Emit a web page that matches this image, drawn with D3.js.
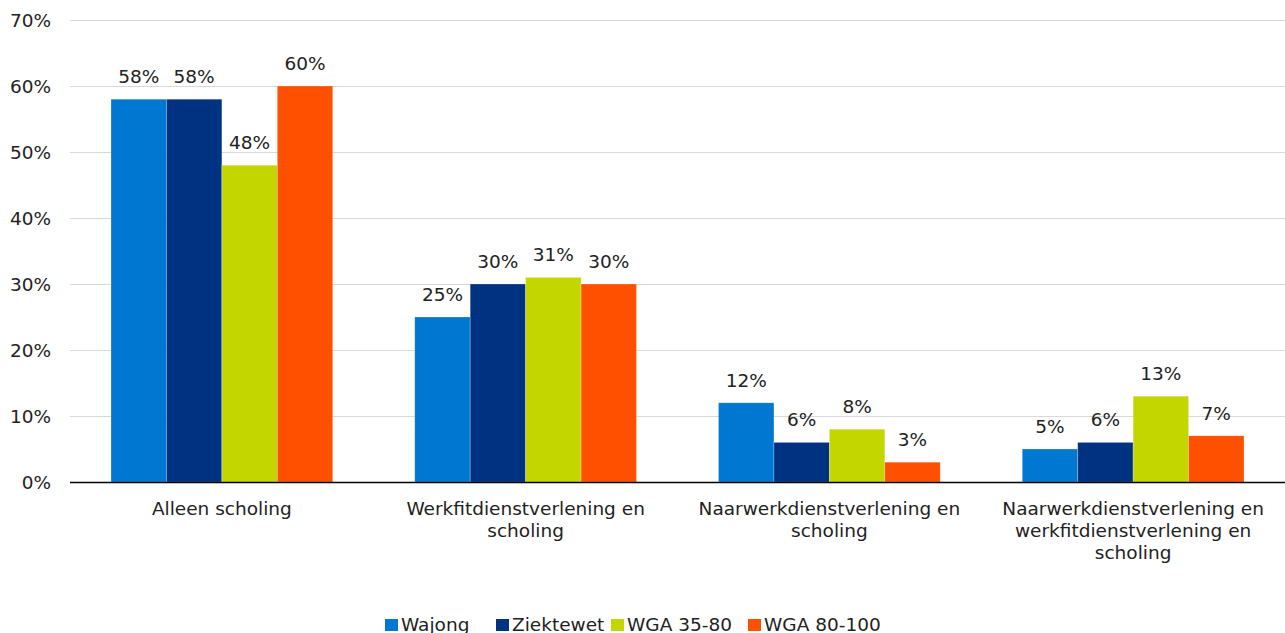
<!DOCTYPE html>
<html>
<head>
<meta charset="utf-8">
<script src="https://cdn.jsdelivr.net/npm/d3@7"></script>
<style>
  body { margin: 0; background: #fff; }
  text { font-family: "DejaVu Sans", Verdana, sans-serif; fill: #222; }
</style>
</head>
<body>
<svg id="chart"></svg>
<script>
// data
var categories = [
  ["Alleen scholing"],
  ["Werkfitdienstverlening en", "scholing"],
  ["Naarwerkdienstverlening en", "scholing"],
  ["Naarwerkdienstverlening en", "werkfitdienstverlening en", "scholing"]
];
var seriesNames = ["Wajong", "Ziektewet", "WGA 35-80", "WGA 80-100"];
var wajong    = [58, 25, 12, 5];
var ziektewet = [58, 30, 6, 6];
var wga3580   = [48, 31, 8, 13];
var wga80100  = [60, 30, 3, 7];
var yTicks = [0, 10, 20, 30, 40, 50, 60, 70];
var colors = ["#0078d2", "#003282", "#c3d600", "#ff5000"];

var width = 1285, height = 633;
var margin = {left: 70, right: 0, top: 20, bottom: 151};
var series = [wajong, ziektewet, wga3580, wga80100];
var fs = '18.5px';

var svg = d3.select('#chart')
  .attr('width', width)
  .attr('height', height);

var x0 = d3.scaleBand()
  .domain(d3.range(categories.length))
  .range([margin.left, width - margin.right])
  .paddingInner(0.27)
  .paddingOuter(0.135);

var x1 = d3.scaleBand()
  .domain(d3.range(seriesNames.length))
  .range([0, x0.bandwidth()]);

var y = d3.scaleLinear()
  .domain([0, 70])
  .range([height - margin.bottom, margin.top]);

// gridlines
svg.append('g')
  .selectAll('line')
  .data(yTicks.slice(1))
  .enter().append('line')
  .attr('x1', margin.left)
  .attr('x2', width - margin.right)
  .attr('y1', function(d){ return y(d) + 0.5; })
  .attr('y2', function(d){ return y(d) + 0.5; })
  .attr('stroke', '#d9d9d9')
  .attr('stroke-width', 1);

// y axis labels
svg.append('g')
  .selectAll('text')
  .data(yTicks)
  .enter().append('text')
  .attr('x', 51)
  .attr('y', function(d){ return y(d) + 7; })
  .attr('text-anchor', 'end')
  .attr('font-size', fs)
  .text(function(d){ return d + '%'; });

// bars
var groups = svg.append('g')
  .selectAll('g')
  .data(categories)
  .enter().append('g')
  .attr('transform', function(d, i){ return 'translate(' + x0(i) + ',0)'; });

groups.each(function(c, ci) {
  var g = d3.select(this);
  series.forEach(function(s, si) {
    var v = s[ci];
    g.append('rect')
      .attr('x', x1(si))
      .attr('y', y(v))
      .attr('width', x1.bandwidth())
      .attr('height', y(0) - y(v))
      .attr('fill', colors[si])
      .attr('stroke', 'rgba(255,255,255,0.35)')
      .attr('stroke-width', 0.7);
    g.append('text')
      .attr('x', x1(si) + x1.bandwidth() / 2)
      .attr('y', y(v) - 16)
      .attr('text-anchor', 'middle')
      .attr('font-size', fs)
      .text(v + '%');
  });
});

// x axis line
svg.append('line')
  .attr('x1', margin.left)
  .attr('x2', width - margin.right)
  .attr('y1', y(0) + 0.5)
  .attr('y2', y(0) + 0.5)
  .attr('stroke', '#000')
  .attr('stroke-width', 1.3);

// category labels
categories.forEach(function(lines, i) {
  var t = svg.append('text')
    .attr('text-anchor', 'middle')
    .attr('font-size', fs);
  lines.forEach(function(l, li) {
    t.append('tspan')
      .attr('x', x0(i) + x0.bandwidth() / 2)
      .attr('y', 515 + li * 22)
      .text(l);
  });
});

// legend
var legendX = [385, 496, 611, 748];
seriesNames.forEach(function(n, i) {
  svg.append('rect')
    .attr('x', legendX[i])
    .attr('y', 619)
    .attr('width', 13)
    .attr('height', 12)
    .attr('fill', colors[i]);
  svg.append('text')
    .attr('x', legendX[i] + 16)
    .attr('y', 631)
    .attr('font-size', fs)
    .text(n);
});
</script>
</body>
</html>
